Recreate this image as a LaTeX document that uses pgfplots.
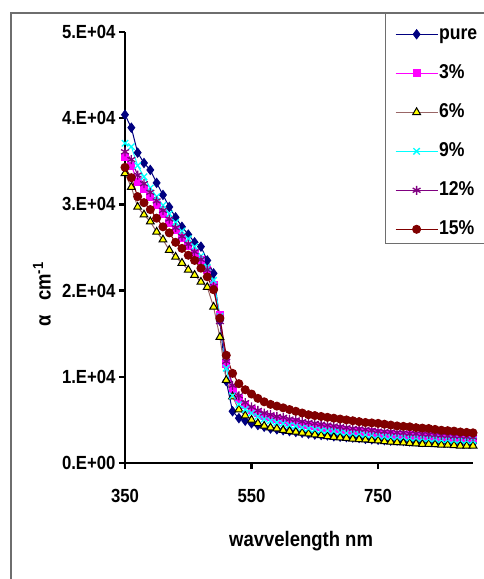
\documentclass[border=0pt]{standalone}
\usepackage{fontspec}
\setmainfont{Liberation Sans}[FakeStretch=0.88]
\usepackage{pgfplots}
\usepackage{pgfplotstable}
\pgfplotsset{compat=1.18}
\usetikzlibrary{calc}

\definecolor{sNavy}{RGB}{0,0,128}
\definecolor{sMagenta}{RGB}{255,0,255}
\definecolor{sMauve}{RGB}{153,102,102}
\definecolor{sYellow}{RGB}{255,255,0}
\definecolor{sCyan}{RGB}{0,255,255}
\definecolor{sPurple}{RGB}{128,0,128}
\definecolor{sDarkRed}{RGB}{128,0,0}
\definecolor{frameGray}{RGB}{110,110,110}

% absorption coefficient (cm^-1) versus wavelength (nm)
\pgfplotstableread{
wl   pure  p3    p6    p9    p12   p15
350 40400 35500 33600 37100 36100 34300
360 38900 34500 32000 36700 35200 33100
370 36000 32600 29700 34500 33400 30900
380 34800 31800 28800 33200 32400 30200
390 34000 30900 28000 31900 31400 29400
400 32500 29900 26800 30900 30400 28400
410 31100 28900 25900 29900 29300 27400
420 29700 27900 24700 28900 28300 26700
430 28500 27000 23900 27900 27300 25600
440 27400 26100 23200 26900 26300 24900
450 26500 25200 22400 26000 25400 24100
460 25600 24400 21800 25100 24500 23500
470 25100 23500 21000 24000 23600 22600
480 23500 22400 20400 22700 22400 21600
490 22000 20600 18100 21200 20500 20100
500 16500 17200 14600 17000 16400 16800
510 9500 11500 9600 11000 11800 12500
520 6000 8600 7700 7800 9000 10400
530 5200 7400 6200 6800 7800 9200
540 4900 6700 5500 6200 7000 8500
550 4600 6200 5000 5800 6500 8000
560 4400 5800 4600 5400 6100 7500
570 4200 5500 4300 5100 5800 7100
580 4000 5300 4100 4900 5600 6800
590 3900 5100 4000 4700 5400 6600
600 3800 5000 3800 4600 5300 6400
610 3700 4800 3700 4400 5100 6200
620 3600 4700 3600 4300 5000 6000
630 3500 4500 3500 4100 4800 5800
640 3400 4400 3400 4000 4700 5600
650 3300 4300 3300 3900 4600 5500
660 3250 4200 3200 3800 4500 5400
670 3200 4100 3100 3750 4400 5300
680 3100 4000 3000 3700 4300 5200
690 3050 3900 2950 3600 4200 5100
700 3000 3800 2900 3500 4100 5000
710 2950 3750 2800 3450 4000 4900
720 2900 3700 2750 3400 3950 4800
730 2800 3600 2700 3300 3900 4700
740 2750 3550 2650 3250 3800 4650
750 2700 3500 2600 3200 3700 4600
760 2650 3400 2500 3100 3650 4500
770 2600 3350 2450 3050 3600 4400
780 2600 3300 2400 3000 3550 4300
790 2550 3250 2350 3000 3500 4250
800 2500 3200 2300 2900 3400 4200
810 2500 3150 2250 2900 3400 4100
820 2450 3100 2200 2850 3350 4050
830 2450 3100 2200 2800 3300 4000
840 2400 3050 2150 2800 3250 3900
850 2400 3000 2100 2700 3200 3800
860 2350 3000 2100 2700 3150 3750
870 2350 2950 2050 2650 3100 3700
880 2300 2950 2000 2650 3100 3600
890 2300 2900 2000 2600 3050 3550
900 2300 2900 2000 2600 3000 3500
}\absdata

\begin{document}
\begin{tikzpicture}[x=1pt,y=1pt]
\begin{axis}[
  scale only axis, width=348pt, height=431pt,
  xmin=350, xmax=900, ymin=0, ymax=50000,
  axis x line=bottom, axis y line=left,
  axis line style={line width=2.6pt, -, black},
  tick align=outside, major tick length=6pt,
  tick style={line width=2.6pt, black},
  xtick={350,550,750}, xticklabels={350,550,750},
  ytick={0,10000,20000,30000,40000,50000},
  yticklabels={0.E+00,1.E+04,2.E+04,3.E+04,4.E+04,5.E+04},
  scaled y ticks=false,
  ticklabel style={font=\bfseries\fontsize{19}{19}\selectfont},
  xticklabel style={yshift=-17pt},
  xlabel={wavvelength nm},
  xlabel style={font=\bfseries\fontsize{21}{21}\selectfont,
    at={(axis description cs:0.506,-0.181)}, anchor=center},
  ylabel={α\hspace{14pt}cm\textsuperscript{-1}},
  ylabel style={font=\bfseries\fontsize{21}{21}\selectfont,
    at={(axis description cs:-0.2385,0.392)}, anchor=center},
  clip=false,
  legend cell align=left,
  legend image code/.code={%
    \draw[mark repeat=2,mark phase=2] plot coordinates {(0pt,0pt) (21pt,0pt) (42pt,0pt)};},
  legend style={at={(axis description cs:0.767,1.023)}, anchor=north west,
    draw=none, fill=none, row sep=19pt,
    font=\bfseries\fontsize{20}{20}\selectfont,
    nodes={inner sep=1pt, text height=14pt, text depth=4pt}},
]
\addplot[sNavy, line width=1pt, mark=diamond*, mark size=4.5pt,
  mark options={fill=sNavy, draw=sNavy}] table[x=wl, y=pure] {\absdata};
\addlegendentry{pure}
\addplot[sMagenta, line width=1pt, mark=square*, mark size=3.5pt,
  mark options={fill=sMagenta, draw=sMagenta}] table[x=wl, y=p3] {\absdata};
\addlegendentry{3\%}
\addplot[sMauve, line width=1pt, mark=triangle*, mark size=4.5pt,
  mark options={fill=sYellow, draw=black, line width=1pt}] table[x=wl, y=p6] {\absdata};
\addlegendentry{6\%}
\addplot[sCyan, line width=1pt, mark=x, mark size=4.5pt,
  mark options={draw=sCyan, line width=1.3pt}] table[x=wl, y=p9] {\absdata};
\addlegendentry{9\%}
\addplot[sPurple, line width=1pt, mark=asterisk, mark size=4.5pt,
  mark options={draw=sPurple, line width=1.3pt}] table[x=wl, y=p12] {\absdata};
\addlegendentry{12\%}
\addplot[sDarkRed, line width=1pt, mark=*, mark size=4pt,
  mark options={fill=sDarkRed, draw=sDarkRed}] table[x=wl, y=p15] {\absdata};
\addlegendentry{15\%}
\coordinate (boxSW) at (rel axis cs:0,0);
\end{axis}
% page area: the axis box corner sits 125pt from the left and 116pt from the bottom
\pgfresetboundingbox
\path[use as bounding box] ($(boxSW)+(-125,-116)$) rectangle ++(484,579);
% chart area frame and legend box
\draw[frameGray, line width=1.2pt]
  ($(boxSW)+(-114,-130)$) -- ($(boxSW)+(-114,450)$) -- ($(boxSW)+(370,450)$);
\draw[frameGray, line width=0.8pt]
  ($(boxSW)+(260,450)$) -- ($(boxSW)+(260,220)$) -- ($(boxSW)+(370,220)$);
\end{tikzpicture}
\end{document}
